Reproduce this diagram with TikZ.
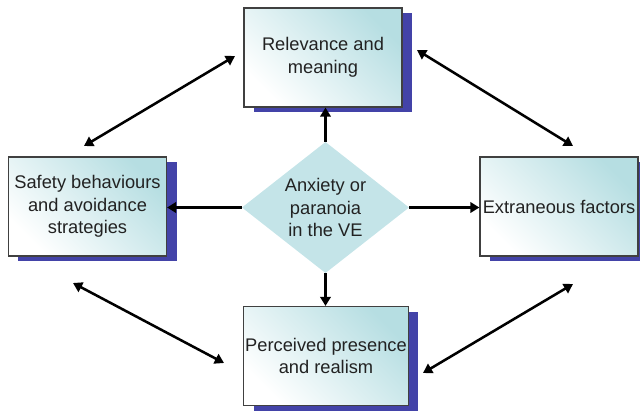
\documentclass[tikz,border=0pt]{standalone}
\usepackage{fontspec}
\setmainfont{Liberation Sans}
\usetikzlibrary{shapes.geometric,shadows,arrows.meta}

\definecolor{boxcyan}{HTML}{B6DEE2}
\definecolor{diacyan}{HTML}{C4E4E8}
\definecolor{shadowblue}{HTML}{4343A8}
\definecolor{textgray}{HTML}{222222}

\begin{document}
\begin{tikzpicture}[x=0.025cm, y=-0.025cm,
    factor/.style={draw=black!75, line width=0.8pt, minimum width=3.95cm,
        minimum height=2.475cm, inner sep=1pt, align=center, text=textgray,
        font=\fontsize{13}{16}\selectfont,
        top color=boxcyan, middle color=white!88!boxcyan, bottom color=white,
        shading angle=-45,
        drop shadow={shadow xshift=0.25cm, shadow yshift=-0.13cm,
            fill=shadowblue, opacity=1}},
    centre/.style={diamond, fill=diacyan, inner sep=0pt, aspect=1.27,
        minimum width=4.18cm, minimum height=3.28cm, align=center,
        text=textgray, font=\fontsize{13}{16}\selectfont},
    arr/.style={line width=1.8pt, -{Triangle[length=6.5pt,width=7.5pt]}},
    biarr/.style={line width=1.8pt,
        {Triangle[length=6.5pt,width=7.5pt]}-{Triangle[length=6.5pt,width=7.5pt]}}]

    % Fix the page to the reference frame
    \useasboundingbox (0,0) rectangle (640,410);

    % The four factors
    \node[factor] (relevance) at (323,57.5) {Relevance and\\meaning};
    \node[factor] (safety) at (87.5,206.5) {Safety behaviours\\and avoidance\\strategies};
    \node[factor] (extraneous) at (559,206.5) {Extraneous factors};
    \node[factor, minimum width=4.05cm] (presence) at (326,356) {Perceived presence\\and realism};

    % The central state
    \node[centre] (anxiety) at (325.5,207.5) {Anxiety or\\paranoia\\in the VE};

    % Arrows out of the centre
    \draw[arr] (anxiety.north) -- (anxiety.north |- relevance.south);
    \draw[arr] (anxiety.south) -- (anxiety.south |- presence.north);
    \draw[arr] (anxiety.west) -- (safety.east |- anxiety.west);
    \draw[arr] (anxiety.east) -- (extraneous.west |- anxiety.east);

    % Ends of the links between the factors
    \coordinate (safety-up) at (84,146);
    \coordinate (relevance-left) at (235,56);
    \coordinate (relevance-right) at (417,50);
    \coordinate (extraneous-up) at (573,146);
    \coordinate (safety-down) at (73,283);
    \coordinate (presence-left) at (224,363);
    \coordinate (extraneous-down) at (573,284);
    \coordinate (presence-right) at (423,373);

    % Links between the factors
    \draw[biarr] (safety-up) -- (relevance-left);
    \draw[biarr] (relevance-right) -- (extraneous-up);
    \draw[biarr] (safety-down) -- (presence-left);
    \draw[biarr] (extraneous-down) -- (presence-right);

\end{tikzpicture}
\end{document}
